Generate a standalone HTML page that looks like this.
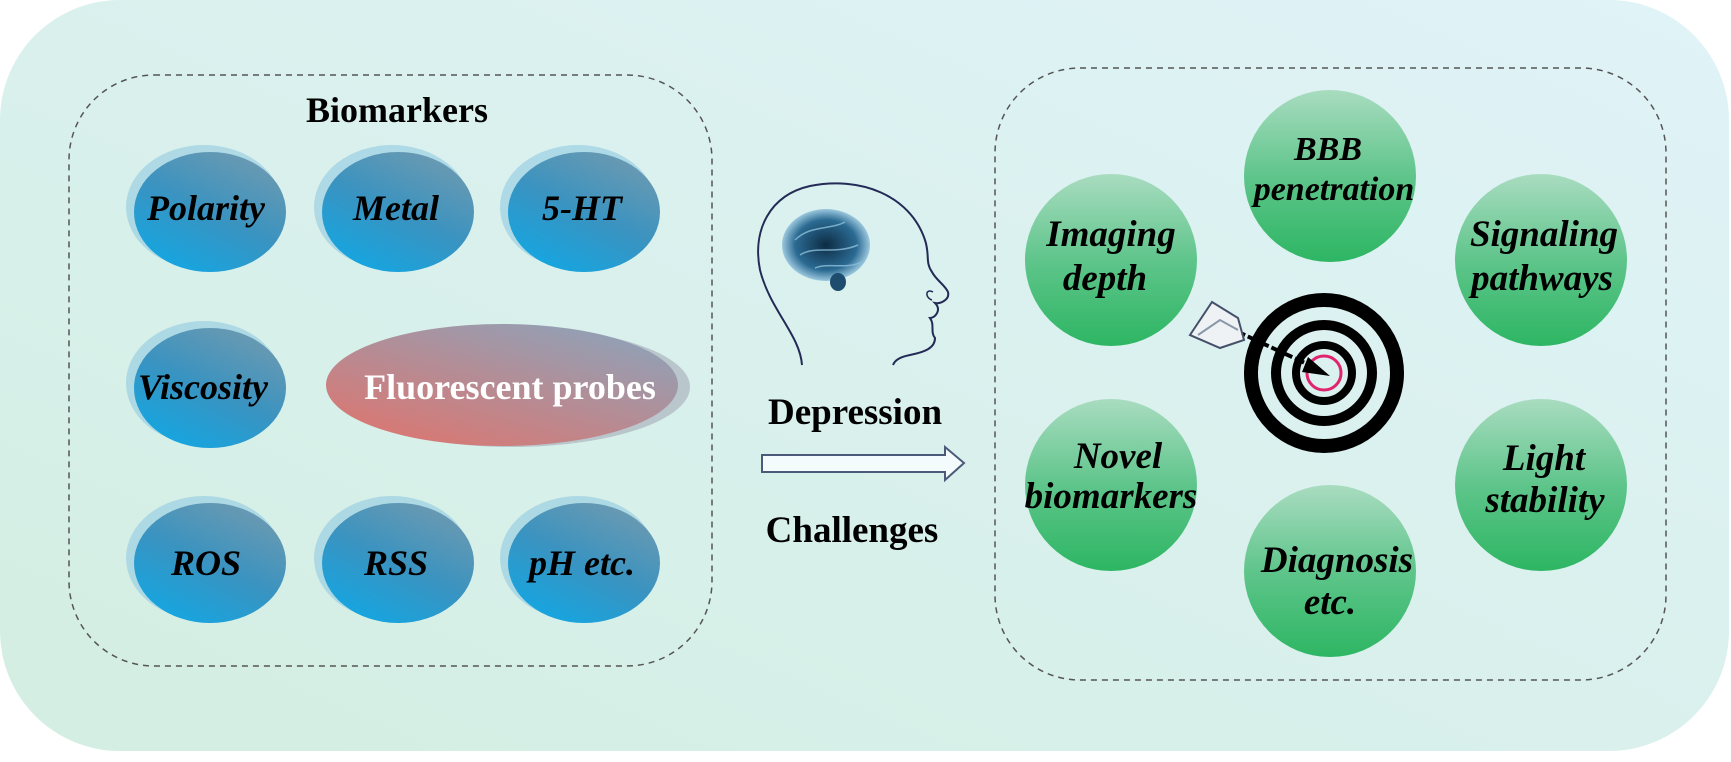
<!DOCTYPE html>
<html><head><meta charset="utf-8"><style>
html,body{margin:0;padding:0;background:#fff;}
svg{display:block;}
text{font-family:"Liberation Serif",serif;font-weight:bold;}
</style></head><body>
<svg width="1731" height="762" viewBox="0 0 1731 762" xmlns="http://www.w3.org/2000/svg">
<defs>
<linearGradient id="bg" x1="0" y1="1" x2="1" y2="0">
<stop offset="0" stop-color="#d3eee2"/><stop offset="1" stop-color="#e0f3f8"/>
</linearGradient>
<linearGradient id="blue" x1="0.8" y1="0" x2="0.2" y2="1">
<stop offset="0" stop-color="#6f9ab0"/><stop offset="0.5" stop-color="#3a93c0"/><stop offset="1" stop-color="#12a7e3"/>
</linearGradient>
<linearGradient id="red" x1="0" y1="1" x2="0.8" y2="0">
<stop offset="0" stop-color="#e3726a"/><stop offset="1" stop-color="#8fa2b8"/>
</linearGradient>
<linearGradient id="green" x1="0" y1="0" x2="0" y2="1">
<stop offset="0" stop-color="#a9dcc0"/><stop offset="0.5" stop-color="#5fc58b"/><stop offset="1" stop-color="#2db663"/>
</linearGradient>
<radialGradient id="brain" cx="0.5" cy="0.5" r="0.5">
<stop offset="0" stop-color="#0d2c44"/><stop offset="0.7" stop-color="#2b6a92"/><stop offset="1" stop-color="#9cc8de"/>
</radialGradient>
</defs>
<rect x="0" y="0" width="1731" height="762" fill="#fff"/>
<rect x="0" y="0" width="1729" height="751" rx="120" fill="url(#bg)"/>

<rect x="69" y="75" width="643" height="591" rx="85" fill="none" stroke="#555" stroke-width="1.5" stroke-dasharray="6,5"/>
<text x="397" y="122" font-size="36" text-anchor="middle">Biomarkers</text>

<g font-size="36" font-style="italic" text-anchor="middle">
<g>
<ellipse cx="204" cy="207" rx="78" ry="62" fill="#a3d3e3" opacity="0.8"/>
<ellipse cx="210" cy="212" rx="76" ry="60" fill="url(#blue)"/>
<text x="206" y="220">Polarity</text>
</g>
<g>
<ellipse cx="392" cy="207" rx="78" ry="62" fill="#a3d3e3" opacity="0.8"/>
<ellipse cx="398" cy="212" rx="76" ry="60" fill="url(#blue)"/>
<text x="396" y="220">Metal</text>
</g>
<g>
<ellipse cx="578" cy="207" rx="78" ry="62" fill="#a3d3e3" opacity="0.8"/>
<ellipse cx="584" cy="212" rx="76" ry="60" fill="url(#blue)"/>
<text x="582" y="220">5-HT</text>
</g>
<g>
<ellipse cx="204" cy="383" rx="78" ry="62" fill="#a3d3e3" opacity="0.8"/>
<ellipse cx="210" cy="388" rx="76" ry="60" fill="url(#blue)"/>
<text x="203" y="399">Viscosity</text>
</g>
<g>
<ellipse cx="204" cy="558" rx="78" ry="62" fill="#a3d3e3" opacity="0.8"/>
<ellipse cx="210" cy="563" rx="76" ry="60" fill="url(#blue)"/>
<text x="206" y="575">ROS</text>
</g>
<g>
<ellipse cx="392" cy="558" rx="78" ry="62" fill="#a3d3e3" opacity="0.8"/>
<ellipse cx="398" cy="563" rx="76" ry="60" fill="url(#blue)"/>
<text x="396" y="575">RSS</text>
</g>
<g>
<ellipse cx="578" cy="558" rx="78" ry="62" fill="#a3d3e3" opacity="0.8"/>
<ellipse cx="584" cy="563" rx="76" ry="60" fill="url(#blue)"/>
<text x="582" y="575">pH etc.</text>
</g>
</g>
<ellipse cx="512" cy="387" rx="178" ry="60" fill="#b9c6cc"/>
<ellipse cx="502" cy="385" rx="176" ry="61" fill="url(#red)"/>
<text x="510" y="399" font-size="36" fill="#fff" text-anchor="middle">Fluorescent probes</text>

<path d="M802,365 C800,335 770,310 760,270 C752,230 770,195 810,186 C860,176 910,195 925,240 C930,255 925,262 932,272 C936,280 945,285 948,292 C950,300 940,304 935,303 C942,310 935,318 930,318 C935,325 930,332 935,338 C935,348 925,352 910,355 C900,357 895,360 893,365" fill="none" stroke="#222a55" stroke-width="2"/>
<path d="M933,292 C925,288 925,298 932,300" fill="none" stroke="#222a55" stroke-width="1.5"/>
<ellipse cx="826" cy="245" rx="44" ry="36" fill="url(#brain)"/>
<ellipse cx="838" cy="282" rx="8" ry="9" fill="#1d4c6e"/>
<g fill="none" stroke="#8cc0da" stroke-width="1.5" opacity="0.8">
<path d="M795,240 C810,225 830,230 845,222"/><path d="M800,255 C815,245 835,255 858,245"/><path d="M815,268 C830,262 845,270 862,262"/>
</g>
<text x="855" y="424" font-size="37" text-anchor="middle">Depression</text>
<path d="M762,455 L945,455 L945,447 L964,463 L945,480 L945,472 L762,472 Z" fill="#f4fbfc" stroke="#4a5a78" stroke-width="2"/>
<text x="852" y="542" font-size="37" text-anchor="middle">Challenges</text>

<rect x="995" y="68" width="671" height="612" rx="85" fill="none" stroke="#555" stroke-width="1.5" stroke-dasharray="6,5"/>

<g font-size="37" font-style="italic" text-anchor="middle">
<circle cx="1330" cy="176" r="86" fill="url(#green)"/>
<text x="1328" y="160" font-size="34">BBB</text><text x="1334" y="200" font-size="34">penetration</text>
<circle cx="1111" cy="260" r="86" fill="url(#green)"/>
<text x="1111" y="246">Imaging</text><text x="1105" y="290">depth</text>
<circle cx="1541" cy="260" r="86" fill="url(#green)"/>
<text x="1544" y="246">Signaling</text><text x="1542" y="290">pathways</text>
<circle cx="1111" cy="485" r="86" fill="url(#green)"/>
<text x="1118" y="468">Novel</text><text x="1111" y="508">biomarkers</text>
<circle cx="1541" cy="485" r="86" fill="url(#green)"/>
<text x="1544" y="470">Light</text><text x="1545" y="512">stability</text>
<circle cx="1330" cy="571" r="86" fill="url(#green)"/>
<text x="1337" y="572">Diagnosis</text><text x="1330" y="614">etc.</text>
</g>

<circle cx="1324" cy="373" r="73" fill="none" stroke="#000" stroke-width="14"/>
<circle cx="1324" cy="373" r="48" fill="none" stroke="#000" stroke-width="10"/>
<circle cx="1324" cy="373" r="28" fill="none" stroke="#000" stroke-width="8"/>
<circle cx="1324" cy="373" r="17" fill="none" stroke="#e0246e" stroke-width="3"/>
<line x1="1236" y1="331" x2="1320" y2="370" stroke="#000" stroke-width="4" stroke-dasharray="10,3"/>
<path d="M1330,376 L1308,357 L1302,372 Z" fill="#000"/>
<path d="M1190,335 L1212,302 L1238,318 L1244,340 L1220,348 Z" fill="#eef2f4" stroke="#44506a" stroke-width="2"/>
<path d="M1198,335 L1220,320 L1238,330" fill="none" stroke="#8a97a8" stroke-width="2"/>
</svg>
</body></html>
